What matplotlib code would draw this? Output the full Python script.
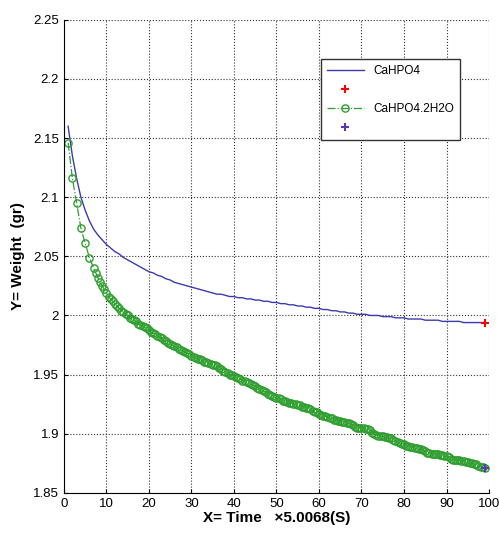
import numpy as np
import matplotlib
matplotlib.use("Agg")
import matplotlib.pyplot as plt

plt.rcParams['font.family'] = ['Liberation Sans', 'DejaVu Sans']

# time index (x 5.0068 s)
t = np.arange(1, 100)

# CaHPO4 weight (gr)
w_anhydrous = [
    2.160, 2.135, 2.116, 2.100, 2.089, 2.080, 2.073, 2.068, 2.064, 2.060,
    2.057, 2.054, 2.052, 2.049, 2.047, 2.045, 2.043, 2.041, 2.039, 2.037,
    2.036, 2.034, 2.033, 2.031, 2.030, 2.028, 2.027, 2.026, 2.025, 2.024,
    2.023, 2.022, 2.021, 2.020, 2.019, 2.018, 2.018, 2.017, 2.016, 2.016,
    2.015, 2.015, 2.014, 2.014, 2.013, 2.013, 2.012, 2.012, 2.011, 2.011,
    2.010, 2.010, 2.009, 2.009, 2.008, 2.008, 2.007, 2.007, 2.006, 2.006,
    2.005, 2.005, 2.004, 2.004, 2.003, 2.003, 2.002, 2.002, 2.001, 2.001,
    2.001, 2.000, 2.000, 2.000, 1.999, 1.999, 1.999, 1.998, 1.998, 1.998,
    1.997, 1.997, 1.997, 1.997, 1.996, 1.996, 1.996, 1.996, 1.995, 1.995,
    1.995, 1.995, 1.995, 1.994, 1.994, 1.994, 1.994, 1.994, 1.994,
]

# CaHPO4.2H2O: sampled every 1 unit at the start, then every 0.5
t_dihydrate = np.concatenate([np.arange(1, 7), np.arange(7, 99.01, 0.5)])
w_dihydrate = [
    2.146, 2.116, 2.095, 2.074, 2.061, 2.049,
    2.040, 2.036, 2.032, 2.028, 2.025, 2.022, 2.019, 2.016, 2.014, 2.012,
    2.010, 2.008, 2.006, 2.004, 2.003, 2.001, 2.000, 1.998, 1.997, 1.996,
    1.995, 1.993, 1.992, 1.991, 1.990, 1.989, 1.988, 1.986, 1.985, 1.984,
    1.983, 1.982, 1.981, 1.979, 1.978, 1.977, 1.976, 1.975, 1.974, 1.973,
    1.972, 1.971, 1.970, 1.969, 1.968, 1.967, 1.966, 1.965, 1.964, 1.963,
    1.963, 1.962, 1.961, 1.961, 1.960, 1.959, 1.958, 1.958, 1.957, 1.956,
    1.955, 1.953, 1.952, 1.951, 1.950, 1.950, 1.949, 1.948, 1.947, 1.946,
    1.945, 1.945, 1.944, 1.943, 1.942, 1.941, 1.940, 1.939, 1.938, 1.937,
    1.936, 1.935, 1.934, 1.933, 1.932, 1.931, 1.930, 1.930, 1.929, 1.928,
    1.928, 1.927, 1.926, 1.926, 1.925, 1.925, 1.924, 1.924, 1.923, 1.923,
    1.922, 1.922, 1.921, 1.919, 1.918, 1.918, 1.917, 1.916, 1.915, 1.915,
    1.914, 1.913, 1.913, 1.912, 1.912, 1.911, 1.911, 1.910, 1.910, 1.909,
    1.909, 1.908, 1.907, 1.906, 1.905, 1.905, 1.905, 1.905, 1.904, 1.904,
    1.903, 1.901, 1.900, 1.899, 1.898, 1.898, 1.898, 1.897, 1.897, 1.896,
    1.896, 1.895, 1.894, 1.893, 1.892, 1.891, 1.891, 1.890, 1.890, 1.889,
    1.889, 1.888, 1.888, 1.887, 1.887, 1.886, 1.885, 1.884, 1.884, 1.883,
    1.883, 1.883, 1.883, 1.882, 1.882, 1.881, 1.881, 1.880, 1.879, 1.878,
    1.878, 1.878, 1.878, 1.877, 1.877, 1.876, 1.876, 1.875, 1.875, 1.874,
    1.874, 1.873, 1.872, 1.872, 1.871,
]

blue = '#3b3bb0'
green = '#2e9e2e'

fig = plt.figure(figsize=(4.99, 5.34), dpi=100)
ax = fig.add_axes([0.128, 0.077, 0.852, 0.886])

l1, = ax.plot(t, w_anhydrous, '-', color=blue, lw=1.0)
p1, = ax.plot(t[-1], w_anhydrous[-1], '+', color='red', ms=6, mew=1.5)
l2, = ax.plot(t_dihydrate, w_dihydrate, '-.', color=green, lw=0.9,
              marker='o', ms=5.2, mfc='none', mec=green, mew=1.0)
p2, = ax.plot(t_dihydrate[-1], w_dihydrate[-1], '+', color='#5a3ab0', ms=6, mew=1.5)

ax.set_xlim(0, 100)
ax.set_ylim(1.85, 2.25)
xt = np.arange(0, 101, 10)
yt = np.round(np.arange(1.85, 2.2501, 0.05), 2)
ax.set_xticks(xt)
ax.set_yticks(yt)
ax.set_yticklabels(['%g' % v for v in yt])
ax.tick_params(labelsize=9.5, direction='in', length=3, top=False, right=False)
ax.grid(True, linestyle=':', color='#333333', lw=0.8)
for s in ['top', 'right']:
    ax.spines[s].set_visible(False)

ax.set_xlabel('X= Time   \u00d75.0068(S)', fontsize=11, fontweight='bold', labelpad=1)
ax.set_ylabel('Y= Weight  (gr)', fontsize=11, fontweight='bold', labelpad=6)

leg = ax.legend([l1, p1, l2, p2], ['CaHPO4', '', 'CaHPO4.2H2O', ''],
                loc='upper left', bbox_to_anchor=(0.59, 0.93), fontsize=8.5,
                fancybox=False, framealpha=1, edgecolor='#333333',
                handlelength=3.2, borderpad=0.5, labelspacing=0.6)
leg.get_frame().set_linewidth(1.0)

fig.savefig('out.png', dpi=100)
